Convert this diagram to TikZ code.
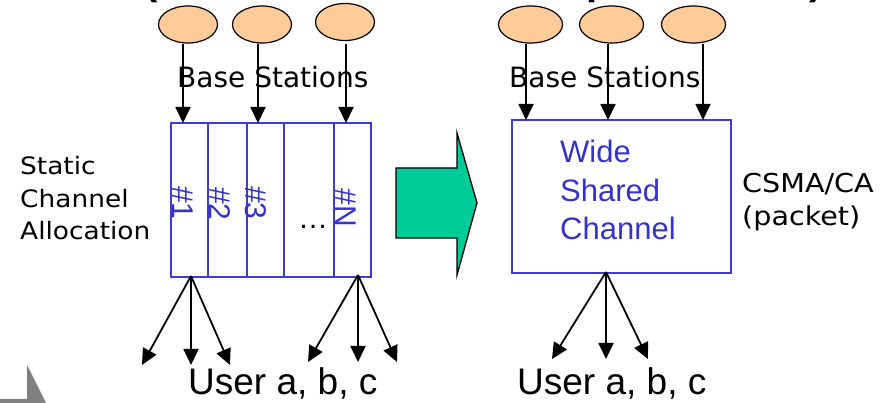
\documentclass[tikz,border=0pt]{standalone}
\usepackage{fontspec}
\setmainfont{Liberation Sans}
\newfontfamily\labelfont[FakeStretch=1.1]{DejaVu Sans}
\newfontfamily\bsfont{DejaVu Sans}
\usetikzlibrary{arrows.meta,shapes.geometric}
\definecolor{peach}{HTML}{FFCC99}
\definecolor{chblue}{HTML}{3333CC}
\definecolor{boxblue}{HTML}{3C3CD2}
\definecolor{arrowgreen}{HTML}{00CC99}
\definecolor{slidegray}{HTML}{808080}
\tikzset{
  bs/.style={ellipse, draw=black, line width=1.2pt, fill=peach, inner sep=0pt,
    minimum height=37pt},
  arr/.style={line width=1.8pt, -{Triangle[length=16pt,width=15pt]}},
  chbox/.style={draw=boxblue, line width=1.8pt, inner sep=0pt},
  divider/.style={draw=boxblue, line width=1.3pt},
  txt/.style={inner sep=0pt, anchor=base west},
  chlabel/.style={inner sep=0pt, text=chblue, font=\fontsize{30}{36}\selectfont},
  bluetxt/.style={txt, text=chblue, font=\fontsize{31}{38}\selectfont},
  sidetxt/.style={txt, font=\labelfont\fontsize{24}{30}\selectfont},
  usertxt/.style={txt, font=\fontsize{37}{44}\selectfont},
  bstxt/.style={txt, font=\bsfont\fontsize{28}{34}\selectfont},
  titlefrag/.style={inner sep=0pt, anchor=base, font=\bfseries\fontsize{40}{48}\selectfont},
}
\begin{document}
\begin{tikzpicture}[x=1pt,y=-1pt]
\useasboundingbox (0,0) rectangle (887,403);
\clip (0,0) rectangle (887,403);

% lower ends of the heading above the frame
\node[titlefrag] (tf1) at (151,-5) {(};
\node[titlefrag] (tf2) at (599,-5) {p};
\node[titlefrag] (tf3) at (816,-5) {)};

% gray corner shape
\fill[slidegray] (0,399) -- (27,399) -- (27,365) -- (47,405) -- (0,405) -- cycle;

% ---------------- left: static allocation ----------------
\node[bs, minimum width=59pt] (l1) at (188,24.5) {};
\node[bs, minimum width=59pt] (l2) at (262,24.5) {};
\node[bs, minimum width=59pt] (l3) at (345,22) {};

\node[chbox, minimum width=200pt, minimum height=154pt] (lbox) at (271,200) {};
\draw[divider] (208,123) -- (208,277);
\draw[divider] (247,123) -- (247,277);
\draw[divider] (284,123) -- (284,277);
\draw[divider] (334,123) -- (334,277);

\node[chlabel, rotate=-90] (c1) at (183,203) {\#1};
\node[chlabel, rotate=-90] (c2) at (220,204) {\#2};
\node[chlabel, rotate=-90] (c3) at (256,203) {\#3};
\node[chlabel, rotate=-90] (cn) at (346,208) {\#N};
\node[inner sep=0pt, anchor=base, font=\fontsize{30}{36}\selectfont] (dots) at (313,229) {\ldots};

\node[bstxt] (lbs) at (177,88) {Base Stations};

\coordinate (la1) at (183,123);
\coordinate (la2) at (258,123);
\coordinate (la3) at (346,123);
\draw[arr] (l1.south -| la1) -- (la1);
\draw[arr] (l2.south -| la2) -- (la2);
\draw[arr] (l3.south -| la3) ++(0,3) -- (la3);

\node[sidetxt] (s1) at (20,175) {Static};
\node[sidetxt] (s2) at (20,208) {Channel};
\node[sidetxt] (s3) at (20,240) {Allocation};

\coordinate (lo1) at (191,276);
\coordinate (lo2) at (358,275);
\coordinate (lu1) at (142,365);
\coordinate (lu2) at (191,365);
\coordinate (lu3) at (230,365);
\coordinate (lu4) at (308,362);
\coordinate (lu5) at (358,362);
\coordinate (lu6) at (397,362);
\draw[arr] (lo1) -- (lu1);
\draw[arr] (lo1) -- (lu2);
\draw[arr] (lo1) -- (lu3);
\draw[arr] (lo2) -- (lu4);
\draw[arr] (lo2) -- (lu5);
\draw[arr] (lo2) -- (lu6);

\node[usertxt] (lusers) at (188,395) {User a, b, c};

% ---------------- transition arrow ----------------
\draw[fill=arrowgreen, line width=1.3pt, line join=miter]
  (396,168) -- (457,168) -- (457,133) -- (477,203) -- (457,275) -- (457,238) -- (396,238) -- cycle;

% ---------------- right: shared channel ----------------
\node[bs, minimum width=64pt] (r1) at (530.5,24.5) {};
\node[bs, minimum width=64pt] (r2) at (611.5,24.5) {};
\node[bs, minimum width=64pt] (r3) at (693.5,24.5) {};

\node[chbox, minimum width=219pt, minimum height=153pt] (rbox) at (621.5,196.5) {};

\node[bluetxt] (w1) at (560,163) {Wide};
\node[bluetxt] (w2) at (560,202) {Shared};
\node[bluetxt] (w3) at (560,240) {Channel};

\node[bstxt] (rbs) at (509,88) {Base Stations};

\coordinate (ra1) at (526,120);
\coordinate (ra2) at (608,120);
\coordinate (ra3) at (703,120);
\draw[arr] (r1.south -| ra1) -- (ra1);
\draw[arr] (r2.south -| ra2) -- (ra2);
\draw[arr] (r3.south -| ra3) -- (ra3);

\node[sidetxt, font=\labelfont\fontsize{26}{32}\selectfont] (p1) at (742,193) {CSMA/CA};
\node[sidetxt, font=\labelfont\fontsize{26}{32}\selectfont] (p2) at (742,226) {(packet)};

\coordinate (ro) at (606,272);
\coordinate (ru1) at (552,359);
\coordinate (ru2) at (606,359);
\coordinate (ru3) at (648,359);
\draw[arr] (ro) -- (ru1);
\draw[arr] (ro) -- (ru2);
\draw[arr] (ro) -- (ru3);

\node[usertxt] (rusers) at (517,395) {User a, b, c};
\end{tikzpicture}
\end{document}
